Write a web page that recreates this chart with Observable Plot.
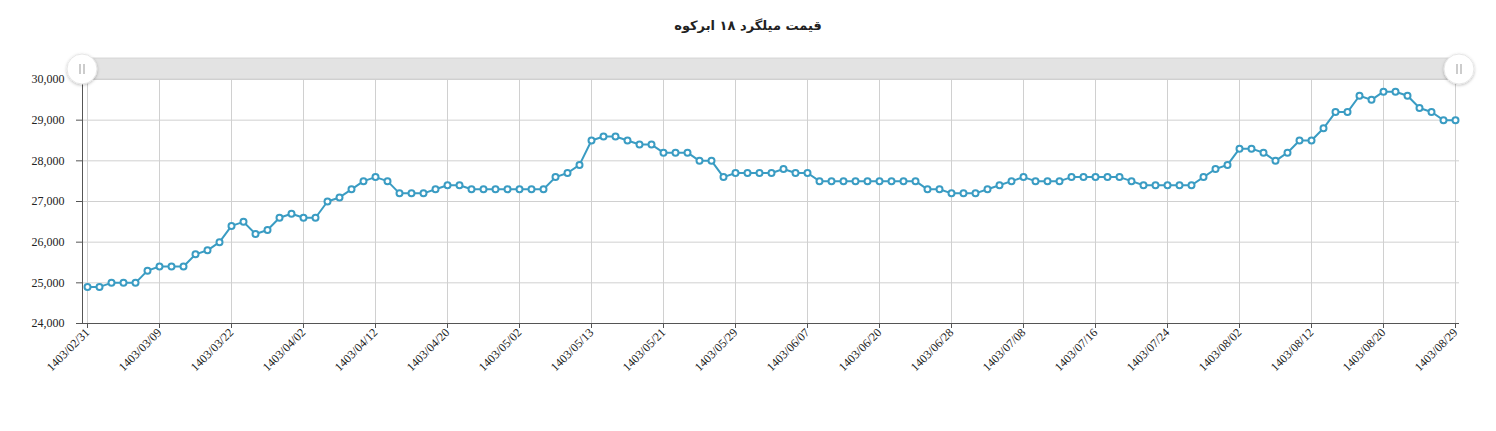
<!DOCTYPE html>
<html>
<head>
<meta charset="utf-8">
<script src="https://cdn.jsdelivr.net/npm/d3@7"></script>
<script src="https://cdn.jsdelivr.net/npm/@observablehq/plot@0.6"></script>
<style>
  html, body { margin: 0; padding: 0; background: #fff; }
  #title { height: 50px; line-height: 52px; text-align: center; font-family: "DejaVu Sans", sans-serif; font-weight: bold; font-size: 13px; color: #222; direction: rtl; }
  #chart svg { display: block; }
</style>
</head>
<body>
<div id="title">قیمت میلگرد ۱۸ ابرکوه</div>
<div id="chart"></div>
<script>
const chartTitle = "قیمت میلگرد ۱۸ ابرکوه";

// Price values (Rial/kg), one per trading day
const prices = [
  24900, 24900, 25000, 25000, 25000, 25300, 25400, 25400, 25400, 25700,
  25800, 26000, 26400, 26500, 26200, 26300, 26600, 26700, 26600, 26600,
  27000, 27100, 27300, 27500, 27600, 27500, 27200, 27200, 27200, 27300,
  27400, 27400, 27300, 27300, 27300, 27300, 27300, 27300, 27300, 27600,
  27700, 27900, 28500, 28600, 28600, 28500, 28400, 28400, 28200, 28200,
  28200, 28000, 28000, 27600, 27700, 27700, 27700, 27700, 27800, 27700,
  27700, 27500, 27500, 27500, 27500, 27500, 27500, 27500, 27500, 27500,
  27300, 27300, 27200, 27200, 27200, 27300, 27400, 27500, 27600, 27500,
  27500, 27500, 27600, 27600, 27600, 27600, 27600, 27500, 27400, 27400,
  27400, 27400, 27400, 27600, 27800, 27900, 28300, 28300, 28200, 28000,
  28200, 28500, 28500, 28800, 29200, 29200, 29600, 29500, 29700, 29700,
  29600, 29300, 29200, 29000, 29000
];

// Date labels shown on the x axis (every 6th trading day)
const tickLabels = [
  "1403/02/31", "1403/03/09", "1403/03/22", "1403/04/02", "1403/04/12",
  "1403/04/20", "1403/05/02", "1403/05/13", "1403/05/21", "1403/05/29",
  "1403/06/07", "1403/06/20", "1403/06/28", "1403/07/08", "1403/07/16",
  "1403/07/24", "1403/08/02", "1403/08/12", "1403/08/20", "1403/08/29"
];
const tickEvery = 6;

// Y axis ticks
const yTicks = [24000, 25000, 26000, 27000, 28000, 29000, 30000];

const data = prices.map((v, i) => ({i, v}));
const tickIdx = tickLabels.map((_, k) => k * tickEvery);
const xDomain = [-5 / 12, prices.length - 1 + 4 / 12];
const yDomain = [yTicks[0], yTicks[yTicks.length - 1]];

const lineColor = "#3a9cc3";
const axisFont = "'Liberation Serif', 'Times New Roman', serif";

const chart = Plot.plot({
  width: 1496,
  height: 381,
  marginLeft: 82,
  marginRight: 37,
  marginTop: 29,
  marginBottom: 108,
  style: { fontFamily: axisFont, fontSize: "12px", color: "#222", background: "#fff" },
  x: { type: "linear", domain: xDomain },
  y: { domain: yDomain },
  marks: [
    Plot.gridY(yTicks, { stroke: "#d0d0d0", strokeOpacity: 1 }),
    Plot.gridX(tickIdx, { stroke: "#d0d0d0", strokeOpacity: 1 }),
    Plot.ruleY([yDomain[0]], { stroke: "#555" }),
    Plot.ruleX([xDomain[0]], { stroke: "#555" }),
    Plot.axisY(yTicks, {
      tickFormat: d3.format(","),
      tickSize: 6,
      tickPadding: 12,
      stroke: "#555",
      fontSize: 12,
      label: null
    }),
    Plot.axisX(tickIdx, {
      tickFormat: i => tickLabels[i / tickEvery],
      tickRotate: -45,
      tickSize: 5,
      tickPadding: 2,
      stroke: "#555",
      fontSize: 12,
      label: null
    }),
    Plot.line(data, { x: "i", y: "v", stroke: lineColor, strokeWidth: 2 }),
    Plot.dot(data, { x: "i", y: "v", r: 3, fill: "#fff", stroke: lineColor, strokeWidth: 2 })
  ]
});

// Navigator bar (decorative) derived from the x scale
const sx = chart.scale("x");
const [x0, x1] = sx.range;
const svg = d3.select(chart);
const defs = svg.append("defs");
const f = defs.append("filter").attr("id", "hshadow").attr("x", "-50%").attr("y", "-50%").attr("width", "200%").attr("height", "200%");
f.append("feDropShadow").attr("dx", 0).attr("dy", 1).attr("stdDeviation", 1.5).attr("flood-color", "#000").attr("flood-opacity", 0.25);
const nav = svg.append("g");
nav.append("rect").attr("x", x0).attr("y", 8).attr("width", x1 - x0).attr("height", 21)
  .attr("fill", "#e3e3e3").attr("stroke", "#cfcfcf").attr("stroke-width", 0.8);
[x0, x1].forEach(cx => {
  const h = nav.append("g").attr("transform", `translate(${cx},19)`);
  h.append("circle").attr("r", 15).attr("fill", "#fff").attr("stroke", "#e6e6e6").attr("filter", "url(#hshadow)");
  h.append("line").attr("x1", -2).attr("x2", -2).attr("y1", -5).attr("y2", 5).attr("stroke", "#999").attr("stroke-width", 1);
  h.append("line").attr("x1", 2).attr("x2", 2).attr("y1", -5).attr("y2", 5).attr("stroke", "#999").attr("stroke-width", 1);
});

document.getElementById("chart").appendChild(chart);
</script>
</body>
</html>
